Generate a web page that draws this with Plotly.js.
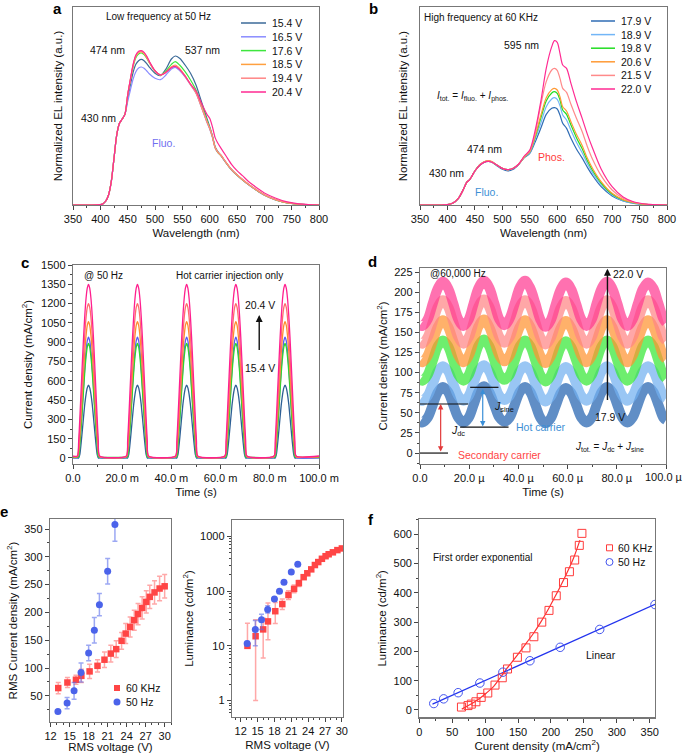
<!DOCTYPE html>
<html><head><meta charset="utf-8">
<script src="https://cdn.plot.ly/plotly-3.0.1.min.js"></script>
<style>body{margin:0;background:#fff}#chart{width:685px;height:753px}</style>
</head><body><div id="chart"></div>
<script>
// ================= DATA =================
// Panel a : EL spectra at 50 Hz
const wlA = [350,380,400,405,410,415,420,425,430,435,440,445,450,455,460,465,470,475,480,485,490,500,510,520,530,537,545,555,565,575,585,595,600,605,610,615,620,630,640,650,660,670,680,690,700,720,740,760,780,800];
const voltsA = ['15.4 V','16.5 V','17.6 V','18.5 V','19.4 V','20.4 V'];
const elA_15_4 = [0,0,0.01,0.04,0.12,0.3,0.7,1.4,2.1,2.45,2.58,2.72,3.2,3.6,3.98,4.22,4.33,4.37,4.33,4.24,4.13,3.95,3.88,4.08,4.38,4.47,4.4,4.2,3.95,3.6,3.1,2.6,2.35,2.08,1.75,1.6,1.5,1.27,1.06,0.9,0.76,0.63,0.51,0.4,0.3,0.16,0.07,0.025,0.01,0];
const elA_16_5 = [0,0,0.01,0.04,0.12,0.3,0.7,1.4,2.1,2.45,2.58,2.72,3.1,3.45,3.78,4.0,4.11,4.14,4.1,4.02,3.93,3.8,3.76,3.9,4.08,4.13,4.03,3.84,3.6,3.35,2.93,2.48,2.28,2.03,1.71,1.57,1.49,1.26,1.05,0.89,0.75,0.62,0.5,0.39,0.29,0.15,0.07,0.025,0.01,0];
const elA_17_6 = [0,0,0.01,0.04,0.12,0.3,0.7,1.4,2.1,2.45,2.58,2.72,3.28,3.74,4.15,4.42,4.53,4.56,4.51,4.4,4.26,4.02,3.9,4.02,4.22,4.3,4.2,4.0,3.75,3.45,3.0,2.55,2.32,2.06,1.73,1.58,1.5,1.27,1.06,0.9,0.76,0.63,0.51,0.4,0.3,0.16,0.07,0.025,0.01,0];
const elA_18_5 = [0,0,0.01,0.04,0.12,0.3,0.7,1.4,2.1,2.45,2.58,2.72,3.3,3.76,4.18,4.46,4.57,4.59,4.54,4.42,4.27,4.02,3.9,3.99,4.15,4.2,4.1,3.88,3.62,3.37,2.95,2.5,2.3,2.05,1.72,1.58,1.5,1.27,1.06,0.9,0.76,0.63,0.51,0.4,0.3,0.16,0.07,0.025,0.01,0];
const elA_19_4 = [0,0,0.01,0.04,0.12,0.3,0.7,1.4,2.1,2.45,2.58,2.72,3.3,3.77,4.2,4.48,4.59,4.61,4.56,4.44,4.28,4.02,3.9,3.98,4.13,4.17,4.07,3.86,3.61,3.36,2.94,2.5,2.3,2.05,1.73,1.59,1.51,1.28,1.07,0.91,0.77,0.64,0.52,0.41,0.31,0.17,0.075,0.03,0.01,0];
const elA_20_4 = [0,0,0.01,0.04,0.12,0.3,0.7,1.4,2.1,2.45,2.58,2.72,3.3,3.78,4.22,4.5,4.61,4.63,4.58,4.46,4.3,4.03,3.9,3.98,4.12,4.16,4.07,3.87,3.63,3.42,3.05,2.72,2.6,2.35,2.02,1.85,1.72,1.47,1.22,1.03,0.88,0.72,0.59,0.47,0.36,0.21,0.1,0.04,0.015,0];

// Panel b : EL spectra at 60 kHz
const wlB = [350,390,400,410,420,430,435,440,445,450,460,470,475,480,490,500,510,520,530,540,550,560,570,580,590,595,600,605,610,617,625,635,645,655,665,680,700,720,740,760,800];
const voltsB = ['17.9 V','18.9 V','19.8 V','20.6 V','21.5 V','22.0 V'];
const elB_17_9 = [0,0,0.01,0.06,0.2,0.5,0.68,0.75,0.88,1.02,1.21,1.3,1.31,1.29,1.18,1.07,1.02,1.07,1.22,1.42,1.55,1.9,2.3,2.72,2.9,2.92,2.88,2.7,2.45,2.3,2.0,1.68,1.42,1.13,0.87,0.55,0.27,0.12,0.05,0.02,0];
const elB_18_9 = [0,0,0.01,0.06,0.2,0.5,0.68,0.75,0.88,1.02,1.22,1.31,1.32,1.3,1.2,1.1,1.06,1.1,1.23,1.43,1.57,1.98,2.45,2.95,3.18,3.22,3.17,2.98,2.7,2.55,2.24,1.88,1.58,1.24,0.95,0.61,0.3,0.13,0.05,0.02,0];
const elB_19_8 = [0,0,0.01,0.06,0.2,0.5,0.68,0.75,0.88,1.02,1.22,1.31,1.32,1.3,1.2,1.1,1.06,1.1,1.23,1.44,1.6,2.05,2.6,3.12,3.36,3.4,3.35,3.15,2.85,2.72,2.4,2.02,1.7,1.33,1.02,0.66,0.33,0.15,0.06,0.02,0];
const elB_20_6 = [0,0,0.01,0.06,0.2,0.5,0.68,0.75,0.88,1.02,1.22,1.32,1.33,1.31,1.2,1.1,1.06,1.1,1.23,1.44,1.6,2.08,2.68,3.22,3.46,3.5,3.45,3.25,2.95,2.82,2.5,2.12,1.8,1.4,1.08,0.7,0.35,0.16,0.07,0.02,0];
const elB_21_5 = [0,0,0.01,0.06,0.2,0.5,0.68,0.75,0.88,1.02,1.22,1.31,1.32,1.3,1.2,1.1,1.06,1.1,1.23,1.45,1.62,2.15,3.0,3.7,4.05,4.1,4.04,3.8,3.5,3.38,3.02,2.6,2.22,1.75,1.35,0.88,0.45,0.2,0.08,0.03,0];
const elB_22_0 = [0,0,0.01,0.06,0.2,0.5,0.68,0.75,0.88,1.02,1.21,1.3,1.31,1.29,1.2,1.1,1.06,1.1,1.23,1.47,1.65,2.25,3.1,4.1,4.75,4.93,4.88,4.55,4.2,4.1,3.65,3.1,2.62,2.12,1.68,1.08,0.55,0.24,0.09,0.03,0];

// Panel c : current density pulses at 50 Hz (time in ms)
const pulseCentersMs = [6.3, 26.2, 46.2, 66.2, 86.2];
const pulseOffsetsMs = [-4.5,-4,-3.5,-3,-2.5,-2,-1.5,-1,-0.5,0,0.5,1,1.5,2,2.5,3,3.5,4,4.5];
const pulseC_15_4 = [0,0,30,115,215,320,420,495,545,565,545,495,420,320,215,115,30,0,0];
const pulseC_16_5 = [2,10,110,250,400,560,710,830,910,940,910,830,710,560,400,250,110,10,2];
const pulseC_17_6 = [5,8,105,236,380,530,672,786,862,890,862,786,672,530,380,236,105,8,5];
const pulseC_18_5 = [10,50,170,330,500,670,830,950,1030,1060,1030,950,830,670,500,330,170,50,10];
const pulseC_19_4 = [12,80,230,410,600,790,960,1090,1170,1200,1170,1090,960,790,600,410,230,80,12];
const pulseC_20_4 = [15,130,320,530,740,940,1110,1240,1320,1350,1320,1240,1110,940,740,530,320,130,15];
const baselineC = [0, 2, 5, 8, 12, 15];

// Panel d : current density at 60 kHz (time in µs)
const tD = [0,1,3.1,5.2,7.3,9.3,11.4,13.5,15.6,17.7,19.8,21.8,23.9,26,28.1,30.2,32.3,34.3,36.4,38.5,40.6,42.7,44.8,46.9,48.9,51,53.1,55.2,57.3,59.3,61.4,63.5,65.6,67.7,69.8,71.8,73.9,76,78.1,80.2,82.3,84.3,86.4,88.5,90.6,92.7,94.8,96.9,98.9,100];
const jD_17_9 = [39,38,44,60,76,82,76,60,44,38,44,60,77,83,76,60,44,39,44,60,76,82,76,60,44,37,43,59,75,81,75,60,44,38,44,60,76,82,76,60,44,38,44,60,76,82,76,60,44,41];
const jD_18_9 = [66,65,71,86,102,108,102,86,71,65,71,87,103,109,102,86,71,66,71,86,102,108,102,86,71,64,70,85,101,107,101,86,71,65,71,86,102,108,102,86,71,65,71,86,102,108,102,86,71,68];
const jD_19_8 = [91,90,97,115,133,140,133,115,97,90,97,115,134,141,133,115,97,91,97,115,133,140,133,115,97,89,96,114,132,139,132,115,97,90,97,115,133,140,133,115,97,90,97,115,133,140,133,115,97,93];
const jD_20_6 = [114,113,121,139,157,165,157,139,121,113,121,139,158,166,157,139,121,114,121,139,157,165,157,139,121,112,120,138,156,164,156,139,121,113,121,139,157,165,157,139,121,113,121,139,157,165,157,139,121,117];
const jD_21_5 = [137,136,144,163,182,190,182,163,144,136,144,163,183,191,182,163,144,137,144,163,182,190,182,163,144,135,143,162,181,189,181,163,144,136,144,163,182,190,182,163,144,136,144,163,182,190,182,163,144,140];
const jD_22_0 = [159,158,166,186,205,213,205,186,166,158,166,186,206,214,206,186,166,159,167,186,206,214,205,186,166,157,165,185,204,212,204,185,166,158,166,186,205,213,205,186,166,158,166,185,204,212,205,186,167,162];

// Panel e : RMS current density & luminance vs RMS voltage
const volts60 = [13.2,14.65,16.0,16.85,18.15,19.4,20.5,21.5,22.35,23.2,23.85,24.55,25.2,25.8,26.45,27.1,27.65,28.4,29.2,30.0];
const j60 = [64,74,79,86,94,104,115,126,134,149,162,174,186,197,208,219,228,236,243,247];
const j60err = [10,9,8,12,13,11,14,15,15,15,18,18,18,19,20,20,21,21,22,21];
const volts50 = [13.15,14.6,15.7,16.8,18.0,18.9,19.7,21.0,22.15];
const j50 = [22,37,59,92,127,168,214,274,358];
const j50err = [2,10,15,17,14,23,20,23,30];
const lum60 = [10,15,20,28,43,58,85,110,140,180,212,250,300,340,390,435,472,512,562,603];
const lum60errPlus = [16,15,12,33,19,14,17,20,17,8,8,8,8,8,8,8,8,8,8,8];
const lum60errMinus = [0,14,14,15,17.5,12,15,17,18,8,8,8,8,8,8,8,8,8,8,8];
const lum50 = [11,20,30,46,72,100,145,224,309];
const lum50errPlus = [1,9,8,8,6,4,3,3,3];
const lum50errMinus = [1,10,10,6,6,4,3,3,3];

// Panel f : luminance vs current density
const lum50f = [22,38,59,92,129,168,214,275,360];
const fitExpJ = [64.5,80,92,102,112.7,123,133,143,153,163,173.6,184,194,204,214,224,234.5,244];
const fitExpL = [3,22,40,58,80,110,142,170,199,230,262,298,336,378,421,467,520,580];
const fitLinJ = [20,358];
const fitLinL = [20,361];

// ================= STYLE =================
const FONT = 'Liberation Sans, Arial, sans-serif';
const colA = ['#3b6a98','#8a8cff','#3ee63e','#ffa040','#ff8585','#ff2a92'];
const colB = ['#2f6cb4','#72b6f7','#22dd22','#ff9a35','#ff8a8a','#ff2a92'];
const colC = ['#2d5f94','#5a5cf5','#2fd52f','#ff8c2e','#ff6b6b','#ff1f8e'];
const colD = ['#2263b0','#72b0f0','#36e836','#ff9330','#ff8585','#ff3a92'];
const RED = '#ff4545', BLUE = '#4b63ea';
const W = 685, H = 753;
const px = v => v / W, py = v => 1 - v / H;

function ax(o) {
  return Object.assign({
    showline: true, linecolor: '#777', linewidth: 1.2, mirror: true,
    ticks: 'outside', ticklen: 4, tickwidth: 1, tickcolor: '#444',
    showgrid: false, zeroline: false,
    tickfont: {family: FONT, size: 11, color: '#111'}
  }, o);
}
function ttl(text, standoff) { return {text: text, font: {family: FONT, size: 11.5, color: '#111'}, standoff: standoff}; }

const traces = [];
const elA = [elA_15_4, elA_16_5, elA_17_6, elA_18_5, elA_19_4, elA_20_4];
elA.forEach((y, i) => traces.push({x: wlA, y: y, xaxis: 'x', yaxis: 'y', type: 'scatter', mode: 'lines',
  line: {color: colA[i], width: 1.2, shape: 'spline', smoothing: 0.8}, name: voltsA[i], showlegend: false}));
const elB = [elB_17_9, elB_18_9, elB_19_8, elB_20_6, elB_21_5, elB_22_0];
elB.forEach((y, i) => traces.push({x: wlB, y: y, xaxis: 'x2', yaxis: 'y2', type: 'scatter', mode: 'lines',
  line: {color: colB[i], width: 1.2, shape: 'spline', smoothing: 0.8}, name: voltsB[i], showlegend: false}));

const pulsesC = [pulseC_15_4, pulseC_16_5, pulseC_17_6, pulseC_18_5, pulseC_19_4, pulseC_20_4];
pulsesC.forEach((prof, i) => {
  const xs = [0], ys = [baselineC[i]];
  pulseCentersMs.forEach(c => { pulseOffsetsMs.forEach((o, k) => { xs.push(c + o); ys.push(prof[k]); }); });
  xs.push(100); ys.push(baselineC[i]);
  traces.push({x: xs, y: ys, xaxis: 'x3', yaxis: 'y3', type: 'scatter', mode: 'lines',
    line: {color: colC[i], width: 1.3, shape: 'spline', smoothing: 0.6}, name: voltsA[i], showlegend: false});
});

const jD = [jD_17_9, jD_18_9, jD_19_8, jD_20_6, jD_21_5, jD_22_0];
jD.forEach((y, i) => traces.push({x: tD, y: y, xaxis: 'x4', yaxis: 'y4', type: 'scatter', mode: 'lines',
  line: {color: colD[i], width: 10, shape: 'spline', smoothing: 1}, opacity: 0.72, name: voltsB[i], showlegend: false}));

// e-left
traces.push({x: volts60, y: j60, xaxis: 'x5', yaxis: 'y5', type: 'scatter', mode: 'markers', name: '60 KHz', showlegend: false,
  marker: {symbol: 'square', size: 6.5, color: RED},
  error_y: {type: 'data', array: j60err, color: 'rgba(255,110,110,0.6)', thickness: 1.5, width: 2.5}});
traces.push({x: volts50, y: j50, xaxis: 'x5', yaxis: 'y5', type: 'scatter', mode: 'markers', name: '50 Hz', showlegend: false,
  marker: {symbol: 'circle', size: 7, color: BLUE},
  error_y: {type: 'data', array: j50err, color: 'rgba(90,110,235,0.6)', thickness: 1.5, width: 2.5}});
// e-right
traces.push({x: volts60, y: lum60, xaxis: 'x6', yaxis: 'y6', type: 'scatter', mode: 'markers', name: '60 KHz', showlegend: false,
  marker: {symbol: 'square', size: 6.5, color: RED},
  error_y: {type: 'data', symmetric: false, array: lum60errPlus, arrayminus: lum60errMinus, color: 'rgba(255,110,110,0.6)', thickness: 1.5, width: 2.5}});
traces.push({x: volts50, y: lum50, xaxis: 'x6', yaxis: 'y6', type: 'scatter', mode: 'markers', name: '50 Hz', showlegend: false,
  marker: {symbol: 'circle', size: 7, color: BLUE},
  error_y: {type: 'data', symmetric: false, array: lum50errPlus, arrayminus: lum50errMinus, color: 'rgba(90,110,235,0.6)', thickness: 1.5, width: 2.5}});
// f
traces.push({x: fitExpJ, y: fitExpL, xaxis: 'x7', yaxis: 'y7', type: 'scatter', mode: 'lines', showlegend: false,
  line: {color: '#ff3030', width: 1.2, shape: 'spline'}});
traces.push({x: fitLinJ, y: fitLinL, xaxis: 'x7', yaxis: 'y7', type: 'scatter', mode: 'lines', showlegend: false,
  line: {color: '#2233ee', width: 1.2}});
traces.push({x: j60, y: lum60, xaxis: 'x7', yaxis: 'y7', type: 'scatter', mode: 'markers', showlegend: false,
  marker: {symbol: 'square-open', size: 8, color: '#ff3b3b', line: {width: 1}}});
traces.push({x: j50, y: lum50f, xaxis: 'x7', yaxis: 'y7', type: 'scatter', mode: 'markers', showlegend: false,
  marker: {symbol: 'circle-open', size: 8.5, color: '#4455ee', line: {width: 1}}});

// ================= LAYOUT =================
const annotations = [];
const shapes = [];
function txt(t, x, y, xref, yref, o) {
  annotations.push(Object.assign({text: t, x: x, y: y, xref: xref, yref: yref, showarrow: false,
    font: {family: FONT, size: 10.5, color: '#111'}, xanchor: 'center', yanchor: 'middle'}, o || {}));
}
// panel letters
[['a',57,9],['b',374,9],['c',25,262],['d',372,261],['e',4,512],['f',371,519]].forEach(l =>
  txt('<b>' + l[0] + '</b>', px(l[1]), py(l[2]), 'paper', 'paper', {font: {family: FONT, size: 15, color: '#000'}}));

// a texts
txt('Low frequency at 50 Hz', 506, 5.65, 'x', 'y', {font: {family: FONT, size: 10, color: '#111'}});
txt('474 nm', 414, 4.65, 'x', 'y');
txt('537 nm', 587, 4.65, 'x', 'y');
txt('430 nm', 397, 2.6, 'x', 'y');
txt('Fluo.', 515, 1.87, 'x', 'y', {font: {family: FONT, size: 10.5, color: '#6f70f0'}});
// b texts
txt('High frequency at 60 KHz', 461, 5.63, 'x2', 'y2', {font: {family: FONT, size: 10, color: '#111'}});
txt('595 nm', 534, 4.8, 'x2', 'y2');
txt('<i>I</i><sub>tot.</sub> = <i>I</i><sub>fluo.</sub> + <i>I</i><sub>phos.</sub>', 445, 3.25, 'x2', 'y2', {font: {family: FONT, size: 10, color: '#111'}});
txt('474 nm', 467, 1.68, 'x2', 'y2');
txt('430 nm', 399, 0.95, 'x2', 'y2');
txt('Fluo.', 471, 0.38, 'x2', 'y2', {font: {family: FONT, size: 10.5, color: '#3d8fd5'}});
txt('Phos.', 590, 1.45, 'x2', 'y2', {font: {family: FONT, size: 10.5, color: '#ff3b3b'}});
// legends a, b (drawn manually)
function manualLegend(names, colors, x0, x1, xt, y0, step) {
  names.forEach((n, i) => {
    const y = y0 + i * step;
    shapes.push({type: 'line', xref: 'paper', yref: 'paper', x0: px(x0), x1: px(x1), y0: py(y), y1: py(y), line: {color: colors[i], width: 1.5}});
    txt(n, px(xt), py(y), 'paper', 'paper', {xanchor: 'left'});
  });
}
manualLegend(voltsA, colA, 241, 266, 270, 23, 13.8);
manualLegend(voltsB, colB, 591, 615, 619, 21, 13.6);

// c texts
txt('@ 50 Hz', 12.4, 1422, 'x3', 'y3', {font: {family: FONT, size: 10, color: '#111'}});
txt('Hot carrier injection only', 63.8, 1422, 'x3', 'y3', {font: {family: FONT, size: 10, color: '#111'}});
txt('20.4 V', 75.9, 1190, 'x3', 'y3');
txt('15.4 V', 75.9, 703, 'x3', 'y3');
annotations.push({x: 75.7, y: 1112, ax: 75.7, ay: 828, xref: 'x3', yref: 'y3', axref: 'x3', ayref: 'y3', text: '',
  showarrow: true, arrowhead: 2, arrowsize: 1, arrowwidth: 1.4, arrowcolor: '#111'});

// d texts and guides
txt('@60,000 Hz', 15.3, 223, 'x4', 'y4', {font: {family: FONT, size: 10, color: '#111'}});
txt('22.0 V', 84.6, 223, 'x4', 'y4');
txt('17.9 V', 77.2, 45.4, 'x4', 'y4');
annotations.push({x: 76.2, y: 229, ax: 76.2, ay: 64, xref: 'x4', yref: 'y4', axref: 'x4', ayref: 'y4', text: '',
  showarrow: true, arrowhead: 2, arrowsize: 1, arrowwidth: 1.4, arrowcolor: '#111'});
[[0, 19.6, 61], [0, 11.4, 0], [20.4, 31.9, 81.7], [16.3, 36, 32.2]].forEach(s =>
  shapes.push({type: 'line', xref: 'x4', yref: 'y4', x0: s[0], x1: s[1], y0: s[2], y1: s[2], line: {color: '#111', width: 1.2}}));
annotations.push({x: 8.4, y: 61, ax: 8.4, ay: 0, xref: 'x4', yref: 'y4', axref: 'x4', ayref: 'y4', text: '',
  showarrow: true, arrowhead: 2, startarrowhead: 2, arrowside: 'end+start', arrowsize: 0.9, arrowwidth: 1.2, arrowcolor: '#e23a3a'});
annotations.push({x: 25.5, y: 33, ax: 25.5, ay: 81.7, xref: 'x4', yref: 'y4', axref: 'x4', ayref: 'y4', text: '',
  showarrow: true, arrowhead: 2, startarrowhead: 2, arrowside: 'end+start', arrowsize: 0.9, arrowwidth: 1.2, arrowcolor: '#3a8fd8'});
txt('<i>J</i><sub>dc</sub>', 15.3, 26.8, 'x4', 'y4');
txt('<i>J</i><sub>sine</sub>', 34.3, 57.8, 'x4', 'y4');
txt('Hot carrier', 49.3, 33, 'x4', 'y4', {font: {family: FONT, size: 10.5, color: '#3d8fd5'}});
txt('Secondary carrier', 32.4, -2.9, 'x4', 'y4', {font: {family: FONT, size: 10.5, color: '#ff4444'}});
txt('<i>J</i><sub>tot.</sub> = <i>J</i><sub>dc</sub> + <i>J</i><sub>sine</sub>', 77.2, 7, 'x4', 'y4', {font: {family: FONT, size: 10, color: '#111'}});
// last tick label of d (would be clipped by the page edge if drawn as a tick label)
txt('100.0 µ', px(685), py(477), 'paper', 'paper', {xanchor: 'right', font: {family: FONT, size: 11, color: '#111'}});

// e-left legend
shapes.push({type: 'rect', xref: 'paper', yref: 'paper', x0: px(114), x1: px(120), y0: py(685), y1: py(691), fillcolor: RED, line: {width: 0}});
txt('60 KHz', px(124), py(688), 'paper', 'paper', {xanchor: 'left'});
shapes.push({type: 'circle', xref: 'paper', yref: 'paper', x0: px(113.5), x1: px(120.5), y0: py(698.5), y1: py(705.5), fillcolor: BLUE, line: {width: 0}});
txt('50 Hz', px(124), py(702), 'paper', 'paper', {xanchor: 'left'});
// f legend + texts
shapes.push({type: 'rect', xref: 'paper', yref: 'paper', x0: px(606.5), x1: px(612.5), y0: py(544.8), y1: py(550.8), line: {color: '#ff3b3b', width: 1}});
txt('60 KHz', px(616), py(548), 'paper', 'paper', {xanchor: 'left'});
shapes.push({type: 'circle', xref: 'paper', yref: 'paper', x0: px(606), x1: px(613), y0: py(558.5), y1: py(565.5), line: {color: '#4455ee', width: 1}});
txt('50 Hz', px(616), py(562), 'paper', 'paper', {xanchor: 'left'});
txt('First order exponential', 97, 521, 'x7', 'y7', {font: {family: FONT, size: 10, color: '#111'}});
txt('Linear', 275.7, 188, 'x7', 'y7');

const layout = {
  width: W, height: H, margin: {l: 0, r: 0, t: 0, b: 0}, paper_bgcolor: '#fff', plot_bgcolor: '#fff',
  font: {family: FONT, size: 11, color: '#111'}, showlegend: false,
  // a
  xaxis: ax({domain: [px(73), px(319)], anchor: 'y', range: [350, 800], dtick: 50, minor: {ticks: 'outside', ticklen: 2, dtick: 25, tickcolor: '#444'},
    title: ttl('Wavelength (nm)', 4)}),
  yaxis: ax({domain: [py(205), py(7)], anchor: 'x', range: [0, 5.94], showticklabels: false, ticks: '',
    title: ttl('Normalized EL intensity (a.u.)', 6)}),
  // b
  xaxis2: ax({domain: [px(420), px(667)], anchor: 'y2', range: [350, 800], dtick: 50, minor: {ticks: 'outside', ticklen: 2, dtick: 25, tickcolor: '#444'},
    title: ttl('Wavelength (nm)', 4)}),
  yaxis2: ax({domain: [py(205), py(7)], anchor: 'x2', range: [0, 5.94], showticklabels: false, ticks: '',
    title: ttl('Normalized EL intensity (a.u.)', 8)}),
  // c
  xaxis3: ax({domain: [px(73), px(319)], anchor: 'y3', range: [0, 100], tickvals: [0, 20, 40, 60, 80, 100],
    ticktext: ['0.0', '20.0 m', '40.0 m', '60.0 m', '80.0 m', '100.0 m'], minor: {ticks: 'outside', ticklen: 2, dtick: 10, tickcolor: '#444'},
    title: ttl('Time (s)', 4)}),
  yaxis3: ax({domain: [py(464), py(265)], anchor: 'x3', range: [-47, 1500], dtick: 150, minor: {ticks: 'outside', ticklen: 2, dtick: 75, tickcolor: '#444'},
    title: ttl('Current density (mA/cm<sup>2</sup>)', 6)}),
  // d
  xaxis4: ax({domain: [px(420), px(666)], anchor: 'y4', range: [0, 100], tickvals: [0, 20, 40, 60, 80, 100],
    ticktext: ['0.0', '20.0 µ', '40.0 µ', '60.0 µ', '80.0 µ', ''], minor: {ticks: 'outside', ticklen: 2, dtick: 10, tickcolor: '#444'},
    title: ttl('Time (s)', 4)}),
  yaxis4: ax({domain: [py(464), py(268)], anchor: 'x4', range: [-13.6, 230], dtick: 25, minor: {ticks: 'outside', ticklen: 2, dtick: 12.5, tickcolor: '#444'},
    title: ttl('Current density (mA/cm<sup>2</sup>)', 4)}),
  // e-left
  xaxis5: ax({domain: [px(50), px(171)], anchor: 'y5', range: [11.9, 31.0], tickvals: [12, 15, 18, 21, 24, 27, 30],
    minor: {ticks: 'outside', ticklen: 2, dtick: 1, tickcolor: '#444'}, title: ttl('RMS voltage (V)', 4)}),
  yaxis5: ax({domain: [py(722), py(519)], anchor: 'x5', range: [3, 368], tickvals: [50, 100, 150, 200, 250, 300, 350],
    minor: {ticks: 'outside', ticklen: 2, dtick: 25, tickcolor: '#444'}, title: ttl('RMS Current density (mA/cm<sup>2</sup>)', 4)}),
  // e-right
  xaxis6: ax({domain: [px(232), px(343)], anchor: 'y6', range: [10.45, 30.2], tickvals: [12, 15, 18, 21, 24, 27, 30],
    minor: {ticks: 'outside', ticklen: 2, dtick: 1, tickcolor: '#444'}, title: ttl('RMS voltage (V)', 4)}),
  yaxis6: ax({domain: [py(717), py(520)], anchor: 'x6', type: 'log', range: [-0.3, 3.3], tickvals: [1, 10, 100, 1000], ticktext: ['1', '10', '100', '1000'],
    minor: {ticks: 'outside', ticklen: 2, dtick: 'D1', tickcolor: '#444'}, title: ttl('Luminance (cd/m<sup>2</sup>)', 4)}),
  // f
  xaxis7: ax({domain: [px(419.3), px(655)], anchor: 'y7', range: [0, 358], dtick: 50,
    minor: {ticks: 'outside', ticklen: 2, dtick: 25, tickcolor: '#444'}, title: ttl('Curent density (mA/cm<sup>2</sup>)', 4)}),
  yaxis7: ax({domain: [py(717.3), py(519.3)], anchor: 'x7', range: [-25, 651], dtick: 100,
    minor: {ticks: 'outside', ticklen: 2, dtick: 50, tickcolor: '#444'}, title: ttl('Luminance (cd/m<sup>2</sup>)', 4)}),
  annotations: annotations, shapes: shapes
};

Plotly.newPlot('chart', traces, layout, {displayModeBar: false, staticPlot: true});
</script></body></html>
